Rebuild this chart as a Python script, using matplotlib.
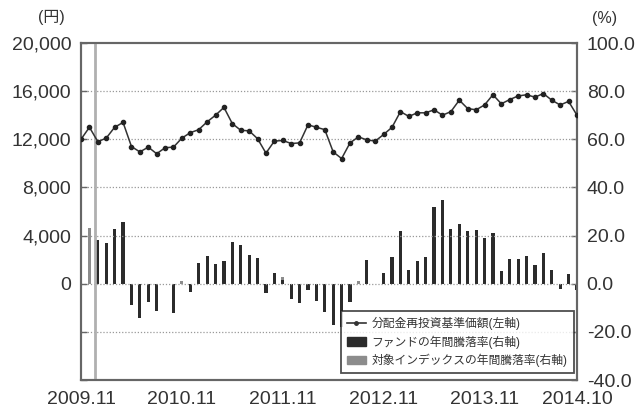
import matplotlib
matplotlib.use('Agg')
import matplotlib.pyplot as plt
from matplotlib.lines import Line2D
from matplotlib.patches import Patch
import numpy as np

plt.rcParams['font.family'] = ['Liberation Sans', 'Noto Sans CJK JP', 'DejaVu Sans']

# monthly, 2009.11 - 2014.10
nav = [12000, 13000, 11800, 12100, 13000, 13400, 11400, 10950, 11350, 10800,
       11300, 11350, 12100, 12550, 12800, 13450, 14000, 14650, 13300, 12750,
       12700, 12050, 10850, 11850, 11900, 11650, 11700, 13200, 13000, 12800,
       10950, 10400, 11700, 12200, 11950, 11850, 12400, 13000, 14300, 13900,
       14200, 14200, 14450, 14000, 14300, 15250, 14550, 14450, 14850, 15700,
       14950, 15300, 15600, 15700, 15500, 15800, 15250, 14850, 15150, 14000]
fund = [0, 0, 18.0, 17.0, 22.6, 25.5, -9.0, -14.3, -7.6, -11.3,
        0, -12.0, 0, -3.5, 8.6, 11.6, 8.3, 9.3, 17.4, 16.0,
        11.8, 10.8, -3.8, 4.5, 1.4, -6.4, -8.2, -2.5, -7.0, -11.7,
        -17.3, -18.0, -7.6, 0, 10.0, 0, 4.4, 11.1, 21.8, 5.8,
        9.3, 11.1, 31.7, 34.7, 22.6, 24.7, 21.8, 22.2, 19.2, 21.1,
        5.1, 10.4, 10.4, 11.4, 7.7, 12.8, 5.8, -2.0, 4.2, -2.8]
index = [0, 23.0, 18.0, 17.0, 22.6, 25.5, -9.0, -14.3, -7.6, -11.3,
         0, -12.0, 1.2, -3.5, 8.6, 11.6, 8.3, 9.3, 17.4, 16.0,
         11.8, 10.8, -3.8, 4.5, 2.6, -6.4, -8.2, -2.5, -7.0, -11.7,
         -17.3, -18.0, -7.6, 1.2, 10.0, 0, 4.4, 11.1, 21.8, 5.8,
         9.3, 11.1, 31.7, 34.7, 22.6, 24.7, 21.8, 22.2, 19.2, 21.1,
         5.1, 10.4, 10.4, 11.4, 7.7, 12.8, 5.8, -2.0, 4.2, -2.8]
xtick_pos = [0, 12, 24, 36, 48, 59]
xtick_lab = ['2009.11', '2010.11', '2011.11', '2012.11', '2013.11', '2014.10']
yl_ticks = [-8000, -4000, 0, 4000, 8000, 12000, 16000, 20000]
yl_labs = ['', '', '0', '4,000', '8,000', '12,000', '16,000', '20,000']
yr_ticks = [-40, -20, 0, 20, 40, 60, 80, 100]

x = np.arange(len(nav))
TXT = '#333333'; SP = '#666666'

fig = plt.figure(figsize=(6.36, 4.08), dpi=100)
ax = fig.add_axes([0.1274, 0.0686, 0.7798, 0.826])
ax2 = ax.twinx()

# bars on right axis
ax2.bar(x, index, width=0.38, color='#8c8c8c', zorder=2)
ax2.bar(x, fund, width=0.38, color='#2b2b2b', zorder=3)
ax2.set_ylim(-40, 100)
ax2.set_yticks(yr_ticks)
ax2.set_yticklabels(['%.1f' % v for v in yr_ticks])

# line on left axis, drawn on top
ax.set_zorder(ax2.get_zorder() + 1)
ax.patch.set_visible(False)
for v in yl_ticks[1:-1]:
    ax.axhline(v, color='#999999', lw=0.9, ls=(0, (1, 1.5)), zorder=1)
ax.axvline(1.65, color='#b0b0b0', lw=2, zorder=1)
ax.plot(x, nav, '-o', color='#333333', lw=1.1, ms=3.0, mfc='#222222', mec='#222222', zorder=4)
ax.set_ylim(-8000, 20000)
ax.set_xlim(0, 59)
ax.set_yticks(yl_ticks)
ax.set_yticklabels(yl_labs)
ax.set_xticks(xtick_pos)
ax.set_xticklabels(xtick_lab)

for a in (ax, ax2):
    for s in a.spines.values():
        s.set_color(SP); s.set_linewidth(1.5)
    a.tick_params(axis='y', direction='in', length=4, width=1, color=SP, labelsize=14, labelcolor=TXT, pad=7)
ax.tick_params(axis='x', length=0, labelsize=14, labelcolor=TXT, pad=8)

handles = [Line2D([0], [0], color='#333333', lw=1.2, marker='o', ms=2.5),
           Patch(color='#2b2b2b'), Patch(color='#8c8c8c')]
labels = ['分配金再投資基準価額(左軸)', 'ファンドの年間騰落率(右軸)', '対象インデックスの年間騰落率(右軸)']
leg = ax.legend(handles, labels, loc='lower right', bbox_to_anchor=(0.993, 0.02), fontsize=8.5,
                frameon=True, fancybox=False, edgecolor='#222222', handlelength=1.6,
                handletextpad=0.5, labelspacing=0.45, borderpad=0.5, borderaxespad=0)
leg.get_frame().set_linewidth(1.3)
for t in leg.get_texts():
    t.set_color(TXT)

fig.text(51 / 636, 1 - 17 / 408, '(円)', ha='center', va='center', fontsize=11.5, color=TXT)
fig.text(605 / 636, 1 - 18 / 408, '(%)', ha='center', va='center', fontsize=11.5, color=TXT)

fig.savefig('out.png', dpi=100, facecolor='white')
